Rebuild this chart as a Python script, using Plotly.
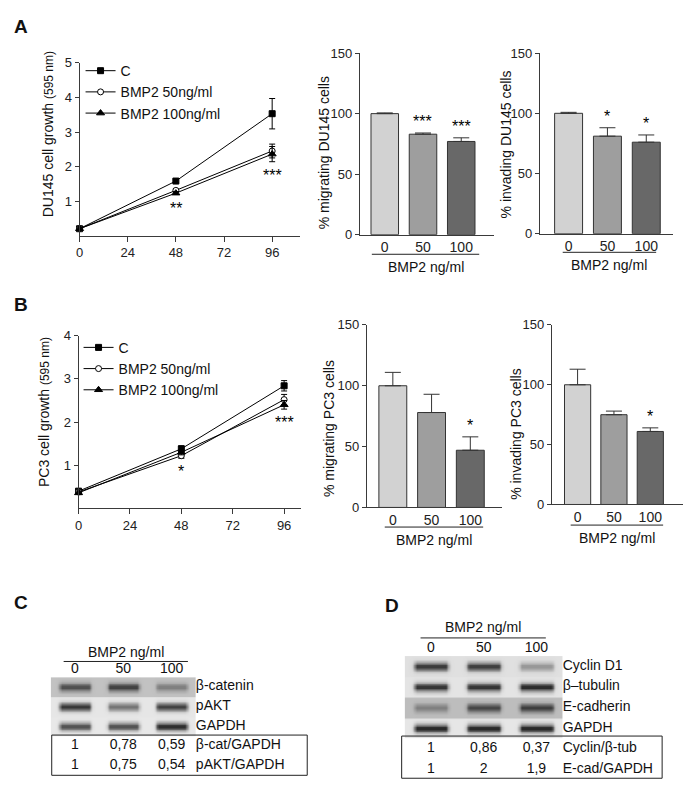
import numpy as np
import plotly.graph_objects as go

W, H = 685, 799
FONT = "Liberation Sans, Arial, sans-serif"
AX = "#3a3a3a"

# ---------------- data ----------------
time_h = [0, 48, 96]
time_ticks = [0, 24, 48, 72, 96]
series_names = ["C", "BMP2 50ng/ml", "BMP2 100ng/ml"]

du145_growth_C = [0.20, 1.58, 3.53]
du145_growth_C_err = [0.03, 0.04, 0.44]
du145_growth_50 = [0.20, 1.31, 2.45]
du145_growth_50_err = [0.03, 0.04, 0.20]
du145_growth_100 = [0.20, 1.23, 2.36]
du145_growth_100_err = [0.03, 0.04, 0.22]
du145_growth_sig = ["", "**", "***"]

pc3_growth_C = [0.40, 1.38, 2.84]
pc3_growth_C_err = [0.04, 0.07, 0.12]
pc3_growth_50 = [0.38, 1.22, 2.52]
pc3_growth_50_err = [0.04, 0.06, 0.12]
pc3_growth_100 = [0.36, 1.30, 2.40]
pc3_growth_100_err = [0.04, 0.06, 0.10]
pc3_growth_sig = ["", "*", "***"]

dose_labels = ["0", "50", "100"]
du145_migrating = [100, 83, 77]
du145_migrating_err = [0.6, 1.0, 3.0]
du145_migrating_sig = ["", "***", "***"]
du145_invading = [100, 81, 76]
du145_invading_err = [0.8, 7.0, 6.0]
du145_invading_sig = ["", "*", "*"]
pc3_migrating = [100, 78, 47]
pc3_migrating_err = [11, 15, 11]
pc3_migrating_sig = ["", "", "*"]
pc3_invading = [100, 75, 61]
pc3_invading_err = [13, 3, 3]
pc3_invading_sig = ["", "", "*"]

bar_colors = ["#d2d2d2", "#9e9e9e", "#686868"]

# Western blots (relative band darkness per lane) and quantification
blotC_proteins = ["β-catenin", "pAKT", "GAPDH"]
blotC_bands = [[0.55, 0.62, 0.32], [0.85, 0.55, 0.80], [0.72, 0.72, 0.90]]
blotC_background = [0.24, 0.07, 0.06]
ratioC_labels = ["β-cat/GAPDH", "pAKT/GAPDH"]
bcat_gapdh = [1, 0.78, 0.59]
pakt_gapdh = [1, 0.75, 0.54]

blotD_proteins = ["Cyclin D1", "β–tubulin", "E-cadherin", "GAPDH"]
blotD_bands = [[0.80, 0.78, 0.35], [0.85, 0.85, 0.90], [0.30, 0.58, 0.62], [0.92, 0.92, 0.92]]
blotD_background = [0.10, 0.08, 0.26, 0.07]
ratioD_labels = ["Cyclin/β-tub", "E-cad/GAPDH"]
cyclin_btub = [1, 0.86, 0.37]
ecad_gapdh = [1, 2, 1.9]


def fmt(v):
    return f"{v:g}".replace(".", ",")


def xdom(a, b):
    return [a / W, b / W]


def ydom(top, bot):
    return [1 - bot / H, 1 - top / H]


def px(x):
    return x / W


def py(y):
    return 1 - y / H


fig = go.Figure()

# ---------------- line charts ----------------
marker_styles = [
    dict(symbol="square", size=6, color="black", line=dict(color="black", width=1)),
    dict(symbol="circle", size=6, color="white", line=dict(color="black", width=1)),
    dict(symbol="triangle-up", size=7, color="black", line=dict(color="black", width=1)),
]


def add_growth(vals, errs, xa, ya, legend):
    for name, v, e, m in zip(series_names, vals, errs, marker_styles):
        fig.add_trace(go.Scatter(
            x=time_h, y=v, name=name, mode="lines+markers",
            line=dict(color="black", width=1), marker=m,
            error_y=dict(type="data", array=e, color="black", thickness=1, width=3),
            xaxis=xa, yaxis=ya, legend=legend, cliponaxis=False, hoverinfo="skip"))


add_growth([du145_growth_C, du145_growth_50, du145_growth_100],
           [du145_growth_C_err, du145_growth_50_err, du145_growth_100_err], "x", "y", "legend")
add_growth([pc3_growth_C, pc3_growth_50, pc3_growth_100],
           [pc3_growth_C_err, pc3_growth_50_err, pc3_growth_100_err], "x4", "y4", "legend2")

annotations = []


def growth_stars(vals, errs, sig, xa, ya):
    for i, t in enumerate(time_h):
        if not sig[i]:
            continue
        low = min(v[i] - e[i] for v, e in zip(vals, errs))
        annotations.append(dict(x=t, y=low, xref=xa, yref=ya, text=sig[i], showarrow=False,
                                yanchor="top", yshift=-3, font=dict(size=16, family=FONT, color="black")))


growth_stars([du145_growth_C, du145_growth_50, du145_growth_100],
             [du145_growth_C_err, du145_growth_50_err, du145_growth_100_err], du145_growth_sig, "x", "y")
growth_stars([pc3_growth_C, pc3_growth_50, pc3_growth_100],
             [pc3_growth_C_err, pc3_growth_50_err, pc3_growth_100_err], pc3_growth_sig, "x4", "y4")

# ---------------- bar charts ----------------


def add_bars(vals, errs, sig, xa, ya):
    fig.add_trace(go.Bar(
        x=[0, 1, 2], y=vals, width=0.72, marker=dict(color=bar_colors, line=dict(color="#333", width=1)),
        error_y=dict(type="data", array=errs, arrayminus=[0, 0, 0], symmetric=False,
                     color="#333", thickness=1, width=8),
        xaxis=xa, yaxis=ya, showlegend=False, hoverinfo="skip"))
    for i in range(3):
        if sig[i]:
            annotations.append(dict(x=i, y=vals[i] + errs[i], xref=xa, yref=ya, text=sig[i],
                                    showarrow=False, yanchor="bottom", yshift=1,
                                    font=dict(size=16, family=FONT, color="black")))


add_bars(du145_migrating, du145_migrating_err, du145_migrating_sig, "x2", "y2")
add_bars(du145_invading, du145_invading_err, du145_invading_sig, "x3", "y3")
add_bars(pc3_migrating, pc3_migrating_err, pc3_migrating_sig, "x5", "y5")
add_bars(pc3_invading, pc3_invading_err, pc3_invading_sig, "x6", "y6")

# ---------------- blots ----------------


def add_blot(bands, bg, xa, ya):
    xs = np.linspace(-0.5, 2.5, 121)
    lane = np.clip(np.round(xs), 0, 2)
    dx = np.abs(xs - lane)
    hx = np.exp(-(np.clip(dx - 0.27, 0, None) / 0.06) ** 2)
    ys, rows = [], []
    nsub = 12
    for r in range(len(bands)):
        yy = r - 0.5 + (np.arange(nsub) + 0.5) / nsub
        for y in yy:
            vy = np.exp(-((y - r) / 0.2) ** 2)
            inten = np.array([bands[r][int(l)] for l in lane])
            rows.append(np.clip(bg[r] + inten * vy * hx, 0, 1))
            ys.append(y)
    fig.add_trace(go.Heatmap(
        x=xs, y=ys, z=np.array(rows), zmin=0, zmax=1, zsmooth="best", showscale=False,
        colorscale=[[0, "#f5f5f5"], [0.5, "#8a8a8a"], [1, "#1e1e1e"]],
        xaxis=xa, yaxis=ya, hoverinfo="skip"))


def add_blot_text(proteins, ratio_rows, ratio_labels, xa, ya):
    n = len(proteins)
    fig.add_trace(go.Scatter(
        x=[2.5] * n, y=list(range(n)), text=proteins, mode="text", textposition="middle right",
        textfont=dict(size=14, family=FONT, color="#111"), xaxis=xa, yaxis=ya,
        showlegend=False, cliponaxis=False, hoverinfo="skip"))
    xs, ys, ts = [], [], []
    for k, row in enumerate(ratio_rows):
        for i, v in enumerate(row):
            xs.append(i)
            ys.append(n + k)
            ts.append(fmt(v))
    fig.add_trace(go.Scatter(
        x=xs, y=ys, text=ts, mode="text", textposition="middle center",
        textfont=dict(size=14, family=FONT, color="#111"), xaxis=xa, yaxis=ya,
        showlegend=False, cliponaxis=False, hoverinfo="skip"))
    fig.add_trace(go.Scatter(
        x=[2.5] * len(ratio_labels), y=[n + k for k in range(len(ratio_labels))], text=ratio_labels,
        mode="text", textposition="middle right",
        textfont=dict(size=14, family=FONT, color="#111"), xaxis=xa, yaxis=ya,
        showlegend=False, cliponaxis=False, hoverinfo="skip"))


add_blot(blotC_bands, blotC_background, "x7", "y7")
add_blot_text(blotC_proteins, [bcat_gapdh, pakt_gapdh], ratioC_labels, "x7", "y7")
add_blot(blotD_bands, blotD_background, "x8", "y8")
add_blot_text(blotD_proteins, [cyclin_btub, ecad_gapdh], ratioD_labels, "x8", "y8")

# ---------------- axes ----------------
tickfont = dict(size=13, family=FONT, color="#222")


def line_x(dom, rng):
    return dict(domain=dom, range=rng, tickvals=time_ticks, showline=True, linecolor=AX, linewidth=1,
                ticks="outside", ticklen=5, tickcolor=AX, showgrid=False, zeroline=False,
                tickfont=tickfont, fixedrange=True)


def line_y(dom, rng, tv):
    return dict(domain=dom, range=rng, tickvals=tv, showline=True, linecolor=AX, linewidth=1,
                ticks="outside", ticklen=4, tickcolor=AX, showgrid=False, zeroline=False,
                tickfont=dict(size=13, family=FONT, color="#222"), fixedrange=True)


def bar_x(dom, rng):
    return dict(domain=dom, range=rng, tickvals=[0, 1, 2], ticktext=dose_labels, showline=True,
                linecolor=AX, linewidth=1, ticks="", showgrid=False, zeroline=False,
                tickfont=dict(size=14, family=FONT, color="#222"), fixedrange=True)


def bar_y(dom):
    return dict(domain=dom, range=[0, 150], tickvals=[0, 50, 100, 150], showline=True, linecolor=AX,
                linewidth=1, ticks="outside", ticklen=4, tickcolor=AX, showgrid=False, zeroline=False,
                tickfont=tickfont, fixedrange=True)


def blot_x(dom, anchor):
    return dict(domain=dom, range=[-0.5, 2.5], side="top", tickvals=[0, 1, 2], ticktext=dose_labels,
                showline=False, ticks="", showgrid=False, zeroline=False, anchor=anchor,
                tickfont=dict(size=14, family=FONT, color="#111"), fixedrange=True)


def blot_y(dom, rng, anchor):
    return dict(domain=dom, range=rng, visible=False, showgrid=False, zeroline=False, anchor=anchor,
                fixedrange=True)


layout = dict(
    width=W, height=H, margin=dict(l=0, r=0, t=0, b=0),
    paper_bgcolor="white", plot_bgcolor="white",
    font=dict(family=FONT, color="#111"),
    xaxis=dict(line_x(xdom(76, 298), [0, 110]), anchor="y"),
    yaxis=dict(line_y(ydom(57, 233), [0, 5], [1, 2, 3, 4, 5]), anchor="x"),
    xaxis2=dict(bar_x(xdom(358, 493), [-0.65, 2.86]), anchor="y2"),
    yaxis2=dict(bar_y(ydom(47, 232)), anchor="x2"),
    xaxis3=dict(bar_x(xdom(539, 673), [-0.74, 2.69]), anchor="y3"),
    yaxis3=dict(bar_y(ydom(47, 231)), anchor="x3"),
    xaxis4=dict(line_x(xdom(75, 299), [0, 104]), anchor="y4"),
    yaxis4=dict(line_y(ydom(335, 511), [0, 4], [1, 2, 3, 4]), anchor="x4"),
    xaxis5=dict(bar_x(xdom(365, 501), [-0.67, 2.82]), anchor="y5"),
    yaxis5=dict(bar_y(ydom(324, 510)), anchor="x5"),
    xaxis6=dict(bar_x(xdom(551, 683), [-0.71, 2.9]), anchor="y6"),
    yaxis6=dict(bar_y(ydom(324, 507)), anchor="x6"),
    xaxis7=blot_x(xdom(47, 193), "y7"),
    yaxis7=blot_y(ydom(683, 785), [4.6, -0.5], "x7"),
    xaxis8=blot_x(xdom(403, 562), "y8"),
    yaxis8=blot_y(ydom(661.5, 789.6), [5.6, -0.5], "x8"),
    legend=dict(x=px(77), y=py(49), xanchor="left", yanchor="top", bgcolor="rgba(0,0,0,0)",
                font=dict(size=14, family=FONT, color="#111"), itemwidth=30, tracegroupgap=0),
    legend2=dict(x=px(75), y=py(331), xanchor="left", yanchor="top", bgcolor="rgba(0,0,0,0)",
                 font=dict(size=14, family=FONT, color="#111"), itemwidth=30, tracegroupgap=0),
    showlegend=True,
)


def ptext(x, y, text, size=14, angle=0, bold=False, anchor="center"):
    annotations.append(dict(x=px(x), y=py(y), xref="paper", yref="paper", text=f"<b>{text}</b>" if bold else text,
                            showarrow=False, textangle=angle, xanchor=anchor, yanchor="middle",
                            font=dict(size=size, family=FONT, color="#111")))


# panel letters
ptext(17, 20, "A", 19, bold=True)
ptext(17, 303, "B", 19, bold=True)
ptext(17, 607, "C", 19, bold=True)
ptext(390, 610, "D", 19, bold=True)

# axis titles
ptext(44, 130, "DU145 cell growth <span style='font-size:12px'>(595 nm)</span>", 14, angle=-90)
ptext(40, 413, "PC3 cell growth <span style='font-size:12px'>(595 nm)</span>", 14, angle=-90)
ptext(322, 149, "% migrating DU145 cells", 14, angle=-90)
ptext(505, 140, "% invading DU145 cells", 14, angle=-90)
ptext(327, 430, "% migrating PC3 cells", 14, angle=-90)
ptext(515, 435, "% invading PC3 cells", 14, angle=-90)

# BMP2 ng/ml labels with underline
shapes = []


def underline_label(x0, x1, yline, ytext):
    shapes.append(dict(type="line", xref="paper", yref="paper", x0=px(x0), x1=px(x1), y0=py(yline), y1=py(yline),
                       line=dict(color="#222", width=1)))
    ptext((x0 + x1) / 2, ytext, "BMP2 ng/ml", 14)


underline_label(370, 478, 252, 265)
underline_label(562, 656, 250, 263)
underline_label(383, 482, 530, 543)
underline_label(570, 663, 528, 541)
underline_label(60, 185, 667, 657)
underline_label(419, 545, 643, 632)

# table boxes
shapes.append(dict(type="rect", xref="paper", yref="paper", x0=px(48), x1=px(305), y0=py(783), y1=py(742),
                   line=dict(color="#222", width=1)))
shapes.append(dict(type="rect", xref="paper", yref="paper", x0=px(400), x1=px(662), y0=py(786), y1=py(743),
                   line=dict(color="#222", width=1)))

layout["annotations"] = annotations
layout["shapes"] = shapes
fig.update_layout(**layout)

fig.write_html("out.html", config={"displayModeBar": False},
               post_script="document.body.style.margin='0';document.body.style.padding='0';document.body.style.overflow='hidden';")
